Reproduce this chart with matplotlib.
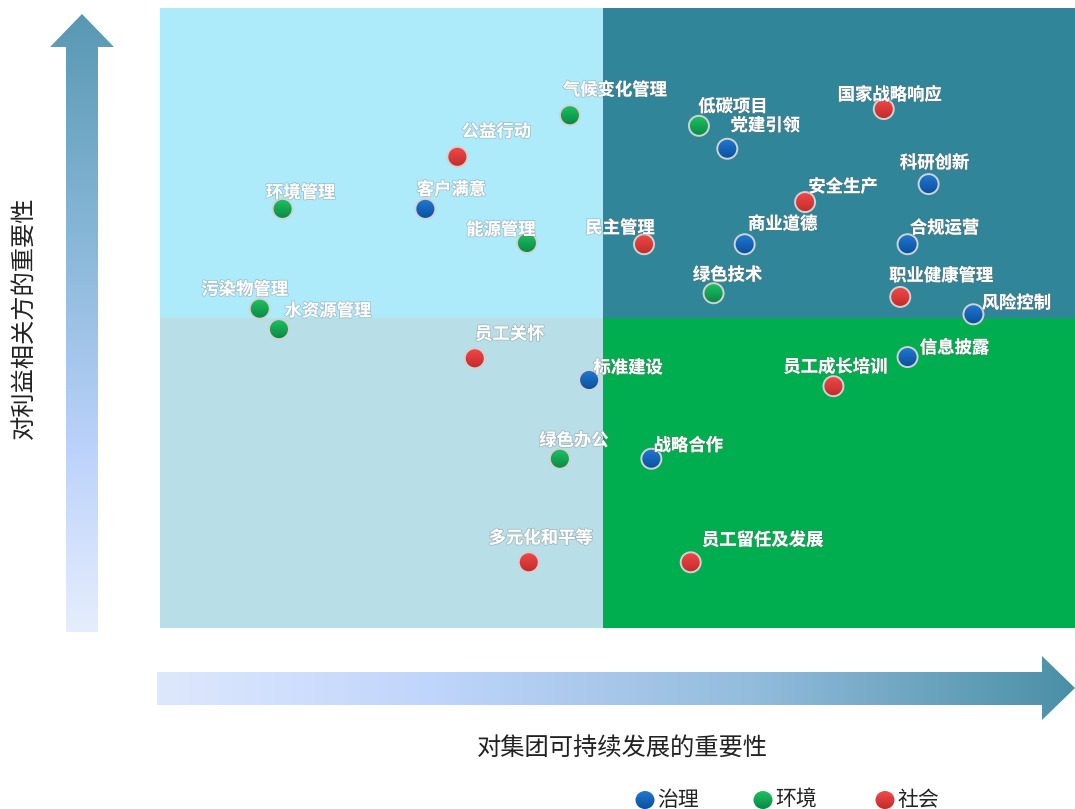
import matplotlib
matplotlib.use('Agg')
import matplotlib.pyplot as plt
import numpy as np
from matplotlib.patches import Polygon, Rectangle, Ellipse
import matplotlib.patheffects as pe
from matplotlib.colors import LinearSegmentedColormap

plt.rcParams['font.family'] = ['Noto Sans CJK SC', 'DejaVu Sans']

# ---------------- data ----------------
categories = ['治理', '环境', '社会']
cat_top = ['#2079D2', '#1CC262', '#F44848']
cat_bottom = ['#0A4F9C', '#0B8744', '#C02C2C']

gov_names = ['客户满意', '党建引领', '科研创新', '商业道德', '合规运营', '风险控制', '信息披露', '标准建设', '战略合作']
gov_x = [2.90, 6.20, 8.40, 6.39, 8.17, 8.89, 8.17, 4.69, 5.37]
gov_y = [6.76, 7.73, 7.16, 6.19, 6.19, 5.06, 4.37, 4.00, 2.73]

env_names = ['气候变化管理', '低碳项目', '环境管理', '能源管理', '绿色技术', '污染物管理', '水资源管理', '绿色办公']
env_x = [4.48, 5.89, 1.34, 4.01, 6.05, 1.09, 1.30, 4.37]
env_y = [8.27, 8.10, 6.76, 6.21, 5.40, 5.15, 4.82, 2.73]

soc_names = ['国家战略响应', '公益行动', '安全生产', '民主管理', '职业健康管理', '员工关怀', '员工成长培训', '多元化和平等', '员工留任及发展']
soc_x = [7.91, 3.25, 7.05, 5.29, 8.09, 3.44, 7.36, 4.03, 5.80]
soc_y = [8.37, 7.60, 6.87, 6.19, 5.34, 4.35, 3.90, 1.06, 1.06]

x_label = '对集团可持续发展的重要性'
y_label = '对利益相关方的重要性'
split_x = 4.84
split_y = 5.0

# label offsets (pixels, right / up) relative to each dot
label_offsets = {
    '客户满意': (26, 19), '环境管理': (18, 16), '公益行动': (39, 25), '气候变化管理': (45, 25),
    '能源管理': (-26, 13), '污染物管理': (-15, 19), '水资源管理': (49, 18), '低碳项目': (34, 19),
    '党建引领': (38, 23), '国家战略响应': (6, 14), '科研创新': (6, 21), '安全生产': (38, 15),
    '民主管理': (-24, 16), '商业道德': (38, 20), '合规运营': (37, 16), '绿色技术': (14, 18),
    '职业健康管理': (41, 21), '风险控制': (43, 11), '员工关怀': (35, 24), '标准建设': (39, 12),
    '绿色办公': (14, 18), '战略合作': (37, 13), '多元化和平等': (12, 24), '员工留任及发展': (72, 22),
    '员工成长培训': (2, 19), '信息披露': (47, 9),
}

W, H = 1075, 809
fig = plt.figure(figsize=(W / 100, H / 100), dpi=100)
fig.patch.set_facecolor('white')

grad_col = np.linspace(0, 1, 64).reshape(-1, 1)


def gradient_dot(axis, cx, cy, rx, ry, top, bottom, edge='#cfcfcf', lw=1.3, z=3):
    cmap = LinearSegmentedColormap.from_list('d', [top, bottom])
    clip = Ellipse((cx, cy), 2 * rx, 2 * ry, facecolor='none', edgecolor='none', transform=axis.transData)
    axis.add_patch(clip)
    y0, y1 = cy - ry, cy + ry
    img = axis.imshow(grad_col, extent=(cx - rx, cx + rx, min(y0, y1), max(y0, y1)), aspect='auto',
                      cmap=cmap, origin='upper' if axis.yaxis_inverted() is False else 'lower',
                      zorder=z, interpolation='bilinear')
    img.set_clip_path(clip)
    if edge is not None:
        axis.add_patch(Ellipse((cx, cy), 2 * rx, 2 * ry, facecolor='none', edgecolor=edge,
                               linewidth=lw, zorder=z + 0.1))


# ---------------- background overlay (arrows, legend, labels) ----------------
bg = fig.add_axes([0, 0, 1, 1], zorder=0)
bg.axis('off')

# vertical arrow
v_cmap = LinearSegmentedColormap.from_list('v', [(0, '#5898B2'), (0.35, '#86B6D6'), (0.7, '#BBD2FB'), (1.0, '#E6EEFD')])
v_poly = Polygon([(66, 632), (66, 47), (50, 47), (82, 14), (114, 47), (98, 47), (98, 632)],
                 closed=True, facecolor='none', edgecolor='none', transform=bg.transData)
bg.add_patch(v_poly)
grad_v = np.linspace(0, 1, 256).reshape(-1, 1)
im = bg.imshow(grad_v, extent=(50, 114, 632, 14), aspect='auto', cmap=v_cmap, origin='upper', zorder=1)
im.set_clip_path(v_poly)

# horizontal arrow
h_cmap = LinearSegmentedColormap.from_list('h', [(0, '#DEE8FD'), (0.3, '#C0D5FB'), (0.65, '#93BCDD'), (1.0, '#4A8FA6')])
h_poly = Polygon([(157, 672), (1042, 672), (1042, 656), (1075, 688), (1042, 720), (1042, 705), (157, 705)],
                 closed=True, facecolor='none', edgecolor='none', transform=bg.transData)
bg.add_patch(h_poly)
grad_h = np.linspace(0, 1, 256).reshape(1, -1)
im2 = bg.imshow(grad_h, extent=(157, 1075, 720, 656), aspect='auto', cmap=h_cmap, origin='upper', zorder=1)
im2.set_clip_path(h_poly)

bg.text(622, 748, x_label, ha='center', va='center', fontsize=17.5, color='#222222')
bg.text(24, 318, y_label, ha='center', va='center', fontsize=17.5, color='#222222', rotation=90)

# legend
leg_x = [645, 763, 885]
for cx, cname, top, bot in zip(leg_x, categories, cat_top, cat_bottom):
    bg.scatter([cx], [800], s=0, zorder=0)
    bg.text(cx + 12, 800, cname, ha='left', va='center', fontsize=15, color='#222222')

bg.set_xlim(0, W)
bg.set_ylim(H, 0)
for cx, top, bot in zip(leg_x, cat_top, cat_bottom):
    clip = Ellipse((cx, 800), 19, 18, facecolor='none', edgecolor='none', transform=bg.transData)
    bg.add_patch(clip)
    cm = LinearSegmentedColormap.from_list('l', [top, bot])
    img = bg.imshow(grad_col, extent=(cx - 10, cx + 10, 809, 791), aspect='auto', cmap=cm,
                    origin='upper', zorder=3, interpolation='bilinear')
    img.set_clip_path(clip)
bg.set_xlim(0, W)
bg.set_ylim(H, 0)

# ---------------- main matrix ----------------
ax = fig.add_axes([160 / W, 1 - 628 / H, 915 / W, 620 / H], zorder=2)
ax.axis('off')

ax.add_patch(Rectangle((0, split_y), split_x, 10 - split_y, facecolor='#ADEBFB', lw=0, zorder=0))
ax.add_patch(Rectangle((split_x, split_y), 10 - split_x, 10 - split_y, facecolor='#318599', lw=0, zorder=0))
ax.add_patch(Rectangle((0, 0), split_x, split_y, facecolor='#B8DEE8', lw=0, zorder=0))
ax.add_patch(Rectangle((split_x, 0), 10 - split_x, split_y, facecolor='#00AE4F', lw=0, zorder=0))

rx = 10 / 91.5   # dot radius in data units (x)
ry = 10 / 62.0   # dot radius in data units (y)

series = [(gov_names, gov_x, gov_y), (env_names, env_x, env_y), (soc_names, soc_x, soc_y)]
for (names, xs, ys), top, bot in zip(series, cat_top, cat_bottom):
    for n, x, y in zip(names, xs, ys):
        cmap = LinearSegmentedColormap.from_list('d', [top, bot])
        clip = Ellipse((x, y), 2 * rx, 2 * ry, facecolor='none', edgecolor='none', transform=ax.transData)
        ax.add_patch(clip)
        img = ax.imshow(grad_col, extent=(x - rx, x + rx, y - ry, y + ry), aspect='auto',
                        cmap=cmap, origin='upper', zorder=3, interpolation='bilinear')
        img.set_clip_path(clip)
        ax.add_patch(Ellipse((x, y), 2 * rx, 2 * ry, facecolor='none', edgecolor='#d2d2d2',
                             linewidth=1.4, zorder=3.1))
        dx, dy = label_offsets[n]
        ax.annotate(n, (x, y), xytext=(dx, dy), textcoords='offset pixels',
                    ha='center', va='center', fontsize=12.5, fontweight='bold', color='white',
                    path_effects=[pe.withStroke(linewidth=1.2, foreground=(0.45, 0.45, 0.45, 0.35))],
                    zorder=4)

ax.set_xlim(0, 10)
ax.set_ylim(0, 10)

fig.savefig('out.png', dpi=100)
